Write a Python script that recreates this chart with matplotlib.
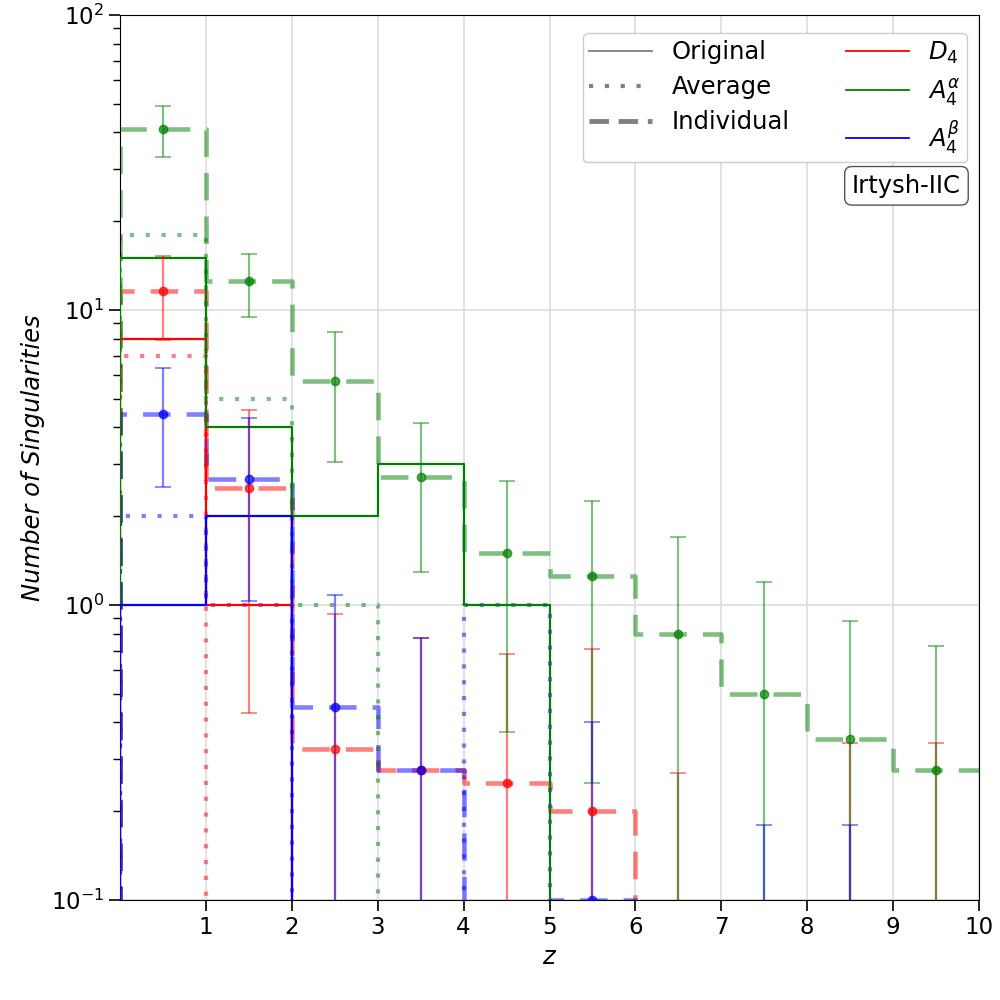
import numpy as np
import matplotlib
matplotlib.use("Agg")
import matplotlib.pyplot as plt
from matplotlib.lines import Line2D

# ---------------- data ----------------
z_edges = [0, 1, 2, 3, 4, 5, 6, 7, 8, 9, 10]
z_centers = [0.5, 1.5, 2.5, 3.5, 4.5, 5.5, 6.5, 7.5, 8.5, 9.5]

# Original counts
orig_D4 = [8, 1, 0, 0, 0, 0, 0, 0, 0, 0]
orig_A4a = [15, 4, 2, 3, 1, 0, 0, 0, 0, 0]
orig_A4b = [1, 2, 0, 0, 0, 0, 0, 0, 0, 0]

# Average counts
avg_D4 = [7, 0, 0, 0, 0, 0, 0, 0, 0, 0]
avg_A4a = [18, 5, 1, 0, 0, 0, 0, 0, 0, 0]
avg_A4b = [2, 1, 0, 0, 1, 0, 0, 0, 0, 0]

# Individual mean counts and errors
ind_D4 = [11.6, 2.5, 0.325, 0.275, 0.25, 0.2, 0, 0, 0, 0]
err_D4 = [3.7, 2.07, 0.61, 0.5, 0.43, 0.51, 0.27, 0, 0.34, 0.34]
ind_A4a = [41, 12.5, 5.75, 2.72, 1.5, 1.25, 0.8, 0.5, 0.35, 0.275]
err_A4a = [8, 3, 2.7, 1.43, 1.13, 1.0, 0.9, 0.7, 0.53, 0.45]
ind_A4b = [4.45, 2.67, 0.45, 0.275, 0, 0.1, 0, 0, 0, 0]
err_A4b = [1.93, 1.64, 0.63, 0.5, 0, 0.3, 0, 0.18, 0.18, 0]

labels = [r'$D_4$', r'$A_4^{\alpha}$', r'$A_4^{\beta}$']
colors = ['red', 'green', 'blue']
x_ticks = [1, 2, 3, 4, 5, 6, 7, 8, 9, 10]
panel_label = 'Irtysh-IIC'

# ---------------- plot ----------------
plt.rcParams['font.family'] = ['DejaVu Sans']
fig = plt.figure(figsize=(10, 10), dpi=100)
ax = fig.add_axes([0.12, 0.10, 0.859, 0.885])
ax.set_yscale('log', nonpositive='clip')

DASH = (0, (6, 3.5))
DOT = (0, (1, 2.8))


def step_hist(values, **kw):
    # histogram outline rising from zero at the first edge, no closing drop at the end
    xs = [z_edges[0]] + list(z_edges)
    ys = [0] + list(values) + [values[-1]]
    ax.step(xs, ys, where='post', **kw)


origs = [orig_D4, orig_A4a, orig_A4b]
avgs = [avg_D4, avg_A4a, avg_A4b]
inds = [ind_D4, ind_A4a, ind_A4b]
errs = [err_D4, err_A4a, err_A4b]

for c, v in zip(colors, inds):
    step_hist(v, color=c, alpha=0.5, lw=3.3, linestyle=DASH, zorder=2)
for c, v in zip(colors, avgs):
    step_hist(v, color=c, alpha=0.5, lw=3.0, linestyle=DOT, zorder=2)
for c, v in zip(colors, origs):
    step_hist(v, color=c, alpha=1.0, lw=1.6, zorder=3)
for c, v, e in zip(colors, inds, errs):
    eb = ax.errorbar(z_centers, v, yerr=e, fmt='o', color=c, alpha=0.5,
                     markersize=6, capsize=5.8, elinewidth=1.6, capthick=1.3, zorder=4)
    eb[0].set_alpha(0.7)

ax.set_xlim(0, 10)
ax.set_ylim(0.1, 100)
ax.set_xticks(x_ticks)
ax.grid(True, which='major', color='#dddddd', lw=1.2)
ax.set_axisbelow(True)
ax.tick_params(axis='both', which='major', labelsize=16.5, length=8, width=1.2)
ax.tick_params(axis='both', which='minor', length=5, width=1.0)
ax.set_xlabel('$z$', fontsize=17.5)
ax.set_ylabel('Number of Singularities', fontsize=17.5, style='italic')

handles = [
    Line2D([], [], color='gray', lw=1.3, linestyle='-'),
    Line2D([], [], color='gray', lw=3.0, linestyle=DOT),
    Line2D([], [], color='gray', lw=3.5, linestyle=(0, (4, 2))),
    Line2D([], [], color=colors[0], lw=1.3),
    Line2D([], [], color=colors[1], lw=1.3),
    Line2D([], [], color=colors[2], lw=1.3),
]
leg_labels = ['Original', 'Average', 'Individual'] + labels
ax.legend(handles, leg_labels, ncol=2, loc='upper right', bbox_to_anchor=(1.0, 0.993),
          fontsize=17.5, handlelength=2.6, columnspacing=2.3, framealpha=1,
          borderpad=0.25, labelspacing=0.45)

ax.text(0.979, 0.807, panel_label, transform=ax.transAxes, ha='right', va='center',
        fontsize=17.5, bbox=dict(boxstyle='round,pad=0.3', facecolor='white',
                                 edgecolor='#555555'))

fig.savefig('out.png', dpi=100)
